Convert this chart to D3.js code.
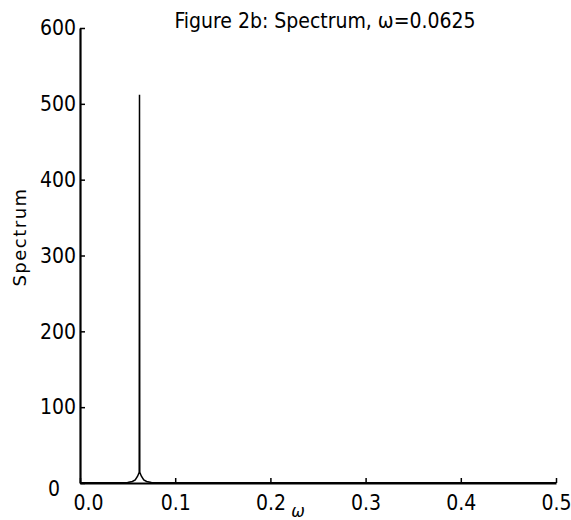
<!DOCTYPE html>
<html>
<head>
<meta charset="utf-8">
<script src="https://cdn.jsdelivr.net/npm/d3@7"></script>
<style>
  body { margin: 0; background: #fff; }
  text { font-family: "DejaVu Sans Condensed", "Liberation Sans Narrow", sans-serif; fill: #000; }
</style>
</head>
<body>
<script>
// spectrum (spike at omega = 0.0625)
const omega =    [0, 0.03, 0.05, 0.055, 0.058, 0.0605, 0.0622, 0.0625, 0.0628, 0.0645, 0.067, 0.07, 0.075, 0.12, 0.25, 0.38, 0.5];
const spectrum = [0.3, 0.4, 0.8, 2, 4, 9, 14, 512, 14, 9, 4, 2, 0.8, 0.4, 0.3, 0.3, 0.3];
const xTicks = [0, 0.1, 0.2, 0.3, 0.4, 0.5];
const yTicks = [0, 100, 200, 300, 400, 500, 600];

const svg = d3.select("body").append("svg")
   .attr("width", 571)
   .attr("height", 520);

const x = d3.scaleLinear().domain([0, 0.5]).range([80, 556]);
const y = d3.scaleLinear().domain([0, 600]).range([483, 28]);

// spectrum line
const line = d3.line()
   .x((d, i) => x(omega[i]))
   .y(d => y(d));

svg.append("path")
   .datum(spectrum)
   .attr("d", line)
   .attr("fill", "none")
   .attr("stroke", "#000")
   .attr("stroke-width", 1.5);

// axes, ticks pointing inwards
const xAxis = svg.append("g")
   .attr("transform", "translate(0," + y(0) + ")")
   .call(d3.axisBottom(x).tickValues(xTicks).tickSizeInner(-5).tickSizeOuter(0).tickPadding(12)
      .tickFormat(d3.format(".1f")));

const yAxis = svg.append("g")
   .attr("transform", "translate(" + x(0) + ",0)")
   .call(d3.axisLeft(y).tickValues(yTicks).tickSizeInner(-5).tickSizeOuter(0).tickPadding(4));

[xAxis, yAxis].forEach(g => {
   g.select(".domain").attr("stroke-width", 2.2);
   g.selectAll(".tick line").attr("stroke-width", 1.5);
   g.selectAll("text").style("font-size", "21px").attr("fill", "#000");
});

xAxis.selectAll("text").attr("dy", "0.71em");
xAxis.selectAll(".tick").filter(d => d === 0).select("text").attr("dx", 8);
yAxis.selectAll(".tick").filter(d => d === 0).select("text").attr("dx", -16).attr("dy", "0.6em");

// labels
svg.append("text")
   .attr("x", 325)
   .attr("y", 28)
   .attr("text-anchor", "middle")
   .style("font-size", "21px")
   .text("Figure 2b: Spectrum, \u03c9=0.0625");

svg.append("text")
   .attr("transform", "translate(26,237) rotate(-90)")
   .attr("text-anchor", "middle")
   .style("font-family", "'DejaVu Sans', sans-serif")
   .style("font-size", "18px")
   .style("letter-spacing", "1.5px")
   .text("Spectrum");

svg.append("text")
   .attr("x", 298)
   .attr("y", 517)
   .attr("text-anchor", "middle")
   .style("font-style", "italic")
   .style("font-size", "18px")
   .text("\u03c9");
</script>
</body>
</html>
